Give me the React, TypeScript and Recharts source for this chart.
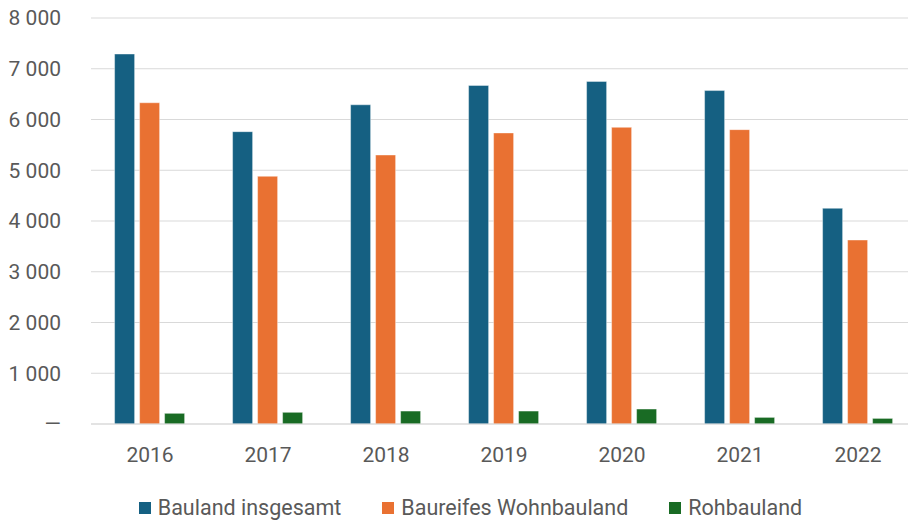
import React from 'react';
import { BarChart, Bar, XAxis, YAxis, CartesianGrid, Legend } from 'recharts';

const years = ['2016', '2017', '2018', '2019', '2020', '2021', '2022'];
const baulandInsgesamt = [7290, 5760, 6290, 6670, 6750, 6570, 4250];
const baureifesWohnbauland = [6330, 4880, 5300, 5735, 5845, 5800, 3625];
const rohbauland = [210, 230, 255, 255, 295, 130, 110];
const yTicks = [0, 1000, 2000, 3000, 4000, 5000, 6000, 7000, 8000];

const series = [
    { key: 'bauland', name: 'Bauland insgesamt', color: '#156082' },
    { key: 'baureif', name: 'Baureifes Wohnbauland', color: '#E97132' },
    { key: 'roh', name: 'Rohbauland', color: '#196B24' },
];

const data = years.map((year, i) => ({
    year,
    bauland: baulandInsgesamt[i],
    baureif: baureifesWohnbauland[i],
    roh: rohbauland[i],
}));

const FONT = 'Roboto, "Liberation Sans", sans-serif';
const TEXT = '#595959';

const formatY = (v: number) => (v === 0 ? '—' : v.toLocaleString('en-US').replace(/,/g, ' '));

const LegendContent = () => (
    <div style={{ display: 'flex', justifyContent: 'center', gap: 41, paddingLeft: 33, height: 28, alignItems: 'center' }}>
        {series.map((s) => (
            <div key={s.key} style={{ display: 'flex', alignItems: 'center' }}>
                <span style={{ width: 12, height: 12, background: s.color, marginRight: 7, display: 'inline-block' }} />
                <span style={{ fontFamily: FONT, fontSize: 21.5, color: TEXT, lineHeight: '28px' }}>{s.name}</span>
            </div>
        ))}
    </div>
);

const App: React.FC = () => {
    // plot area runs a little past the right edge, like the original export
    return (
        <div style={{ position: 'absolute', left: 0, top: 0, width: 908, height: 520, overflow: 'hidden', background: '#fff' }}>
            <BarChart
                width={917}
                height={520}
                data={data}
                margin={{ top: 18, right: 0, left: 0, bottom: 18 }}
                barCategoryGap="20%"
                barGap={5}
            >
                <CartesianGrid vertical={false} stroke="#d9d9d9" strokeWidth={1.2} />
                <XAxis
                    dataKey="year"
                    height={50}
                    axisLine={{ stroke: '#d9d9d9', strokeWidth: 1.2 }}
                    tickLine={false}
                    tickMargin={17}
                    tick={{ fill: TEXT, fontSize: 21, fontFamily: FONT }}
                />
                <YAxis
                    width={91}
                    domain={[0, 8000]}
                    ticks={yTicks}
                    axisLine={false}
                    tickLine={false}
                    tickMargin={24}
                    tickFormatter={formatY}
                    tick={{ fill: TEXT, fontSize: 21, fontFamily: FONT }}
                />
                <Legend
                    verticalAlign="bottom"
                    content={<LegendContent />}
                    wrapperStyle={{ left: 0, width: 908, top: 494, height: 28 }}
                />
                {series.map((s) => (
                    <Bar
                        key={s.key}
                        dataKey={s.key}
                        name={s.name}
                        fill={s.color}
                        stroke="#ffffff"
                        strokeOpacity={0.4}
                        strokeWidth={1}
                        isAnimationActive={false}
                    />
                ))}
            </BarChart>
        </div>
    );
};

export default App;
